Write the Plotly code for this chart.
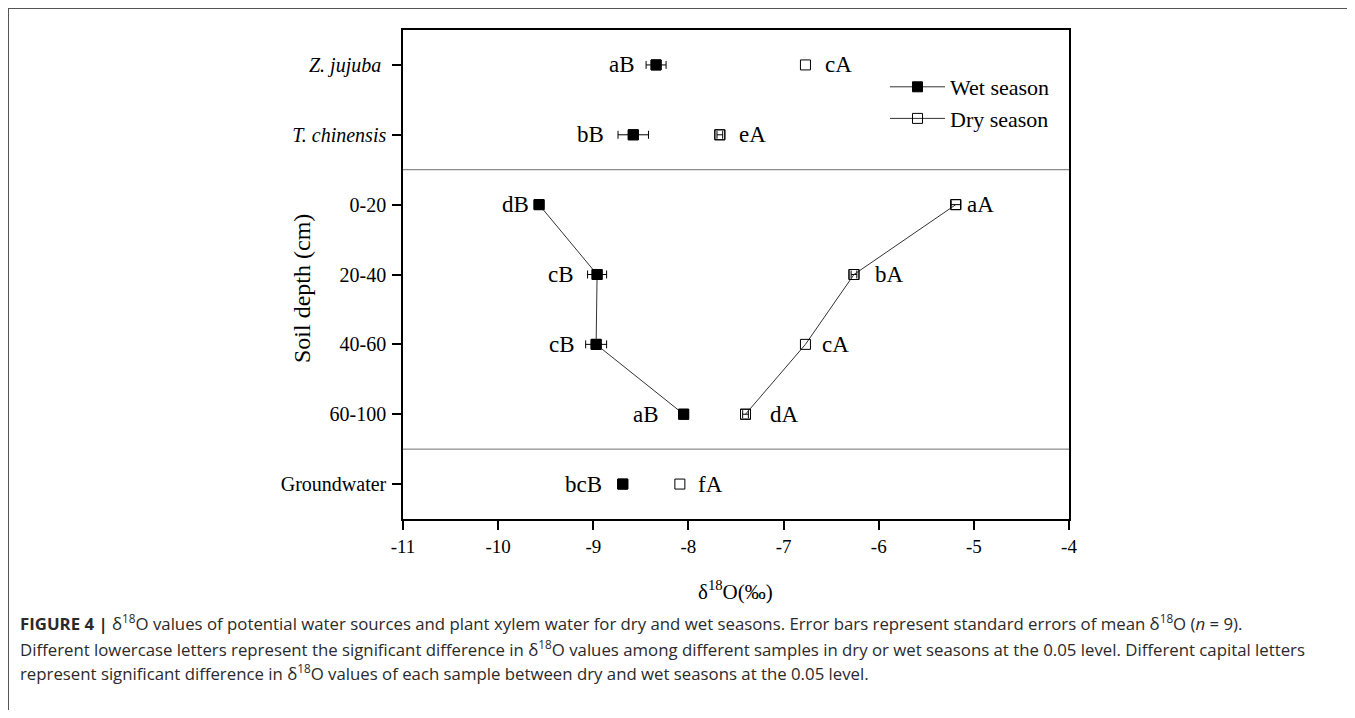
import plotly.graph_objects as go

# ---------------- data ----------------
categories = ["Z. jujuba", "T. chinensis", "0-20", "20-40", "40-60", "60-100", "Groundwater"]
tick_labels = ["<i>Z. jujuba</i> ", "<i>T. chinensis</i>", "0-20", "20-40", "40-60", "60-100", "Groundwater"]
wet_values = [-8.34, -8.58, -9.57, -8.96, -8.97, -8.05, -8.69]
wet_errors = [0.105, 0.16, 0.03, 0.10, 0.11, 0.03, 0.05]
dry_values = [-6.77, -7.67, -5.19, -6.26, -6.77, -7.40, -8.09]
dry_errors = [None, 0.03, 0.05, 0.03, None, 0.03, None]
wet_letters = ["aB", "bB", "dB", "cB", "cB", "aB", "bcB"]
dry_letters = ["cA", "eA", "aA", "bA", "cA", "dA", "fA"]
soil_idx = [2, 3, 4, 5]
other_idx = [0, 1, 6]
x_ticks = [-11, -10, -9, -8, -7, -6, -5, -4]

# ---------------- style helpers ----------------
W, H = 1339, 702
ML, MR, MT, MB = 395, 278, 22, 191
PW = W - ML - MR
PH = H - MT - MB
OFF = 8  # page offset of figure (body margin)


def xp(px):
    return (px - OFF - ML) / PW


def yp(py):
    return (MT + PH - (py - OFF)) / PH


SERIF = "Liberation Serif, Times New Roman, serif"
CAPFONT = "Open Sans, Noto Sans, sans-serif"

ypos = list(range(len(categories)))

fig = go.Figure()


def add_series(values, errors, name, symbol, fill):
    mk = dict(symbol=symbol, size=10, color=fill, line=dict(color="black", width=1))
    # error bars (only points that have a visible error)
    ex = [i for i in range(len(values)) if errors[i] is not None]
    fig.add_trace(go.Scatter(
        x=[values[i] for i in ex], y=[ypos[i] for i in ex], mode="markers",
        marker=mk, showlegend=False, hoverinfo="skip",
        error_x=dict(type="data", array=[errors[i] for i in ex], visible=True,
                     color="black", thickness=1, width=4),
    ))
    # soil profile connected by a line
    fig.add_trace(go.Scatter(
        x=[values[i] for i in soil_idx], y=[ypos[i] for i in soil_idx],
        mode="lines+markers", name=name,
        line=dict(color="#333333", width=1), marker=mk, showlegend=True,
    ))
    # plants and groundwater
    fig.add_trace(go.Scatter(
        x=[values[i] for i in other_idx], y=[ypos[i] for i in other_idx],
        mode="markers", name=name, marker=mk, showlegend=False,
    ))


add_series(wet_values, wet_errors, "Wet season", "square", "black")
add_series(dry_values, dry_errors, "Dry season", "square-open", "black")

annotations = []
wet_gap = [9, 12, 5, 12, 9, 20, 14]
dry_gap = [18, 17, 9, 19, 15, 22, 16]
for i in range(len(categories)):
    werr = wet_errors[i] or 0
    annotations.append(dict(
        x=wet_values[i] - werr, y=ypos[i], xref="x", yref="y",
        text=wet_letters[i], showarrow=False, xanchor="right", yanchor="middle",
        xshift=-wet_gap[i], font=dict(family=SERIF, size=23, color="black")))
    annotations.append(dict(
        x=dry_values[i], y=ypos[i], xref="x", yref="y",
        text=dry_letters[i], showarrow=False, xanchor="left", yanchor="middle",
        xshift=dry_gap[i], font=dict(family=SERIF, size=23, color="black")))

# axis titles
annotations.append(dict(x=xp(302), y=yp(289), xref="paper", yref="paper",
                        text="Soil depth (cm)", textangle=-90, showarrow=False,
                        xanchor="center", yanchor="middle",
                        font=dict(family=SERIF, size=24, color="black")))
annotations.append(dict(x=xp(735), y=yp(590), xref="paper", yref="paper",
                        text="δ<sup>18</sup>O(‰)", showarrow=False,
                        xanchor="center", yanchor="middle",
                        font=dict(family=SERIF, size=21, color="black")))

# caption
caption_lines = [
    "<b>FIGURE 4 |</b> δ<sup>18</sup>O values of potential water sources and plant xylem water for dry and wet seasons. "
    "Error bars represent standard errors of mean δ<sup>18</sup>O (<i>n</i> = 9).",
    "Different lowercase letters represent the significant difference in δ<sup>18</sup>O values among different samples "
    "in dry or wet seasons at the 0.05 level. Different capital letters",
    "represent significant difference in δ<sup>18</sup>O values of each sample between dry and wet seasons at the 0.05 level.",
]
caption_y = [622, 648, 672]
for line, cy in zip(caption_lines, caption_y):
    annotations.append(dict(x=xp(18), y=yp(cy), xref="paper", yref="paper",
                            text=line, showarrow=False, xanchor="left",
                            yanchor="middle", align="left",
                            font=dict(family=CAPFONT, size=16.8, color="#2a2a2a")))

shapes = [
    # separators between groups
    dict(type="line", xref="paper", yref="y", x0=0, x1=1, y0=1.5, y1=1.5,
         line=dict(color="#707070", width=1)),
    dict(type="line", xref="paper", yref="y", x0=0, x1=1, y0=5.5, y1=5.5,
         line=dict(color="#707070", width=1)),
    # outer frame
    dict(type="line", xref="paper", yref="paper", x0=xp(8), x1=xp(1360),
         y0=yp(8.5), y1=yp(8.5), line=dict(color="#555555", width=1)),
    dict(type="line", xref="paper", yref="paper", x0=xp(8.5), x1=xp(8.5),
         y0=yp(8), y1=yp(720), line=dict(color="#555555", width=1)),
]

fig.update_layout(
    width=W, height=H,
    margin=dict(l=ML, r=MR, t=MT, b=MB, pad=0),
    paper_bgcolor="white", plot_bgcolor="white",
    font=dict(family=SERIF, size=19, color="black"),
    xaxis=dict(range=[-11, -4], tickvals=x_ticks, ticktext=[str(v) for v in x_ticks],
               showgrid=False, zeroline=False, showline=True, linecolor="black",
               linewidth=1.5, mirror=True, ticks="outside", ticklen=9, tickwidth=1.5,
               tickcolor="black", tickfont=dict(family=SERIF, size=19, color="black")),
    yaxis=dict(range=[6.5, -0.5], tickvals=ypos, ticktext=tick_labels,
               showgrid=False, zeroline=False, showline=True, linecolor="black",
               linewidth=1.5, mirror=True, ticks="outside", ticklen=9, tickwidth=1.5,
               tickcolor="black", ticklabelstandoff=2,
               tickfont=dict(family=SERIF, size=20, color="black")),
    legend=dict(x=xp(885), y=yp(66), xanchor="left", yanchor="top",
                bgcolor="rgba(0,0,0,0)", borderwidth=0, itemwidth=55,
                font=dict(family=SERIF, size=22, color="black"),
                tracegroupgap=0),
    annotations=annotations,
    shapes=shapes,
)

fig.write_html("out.html")
